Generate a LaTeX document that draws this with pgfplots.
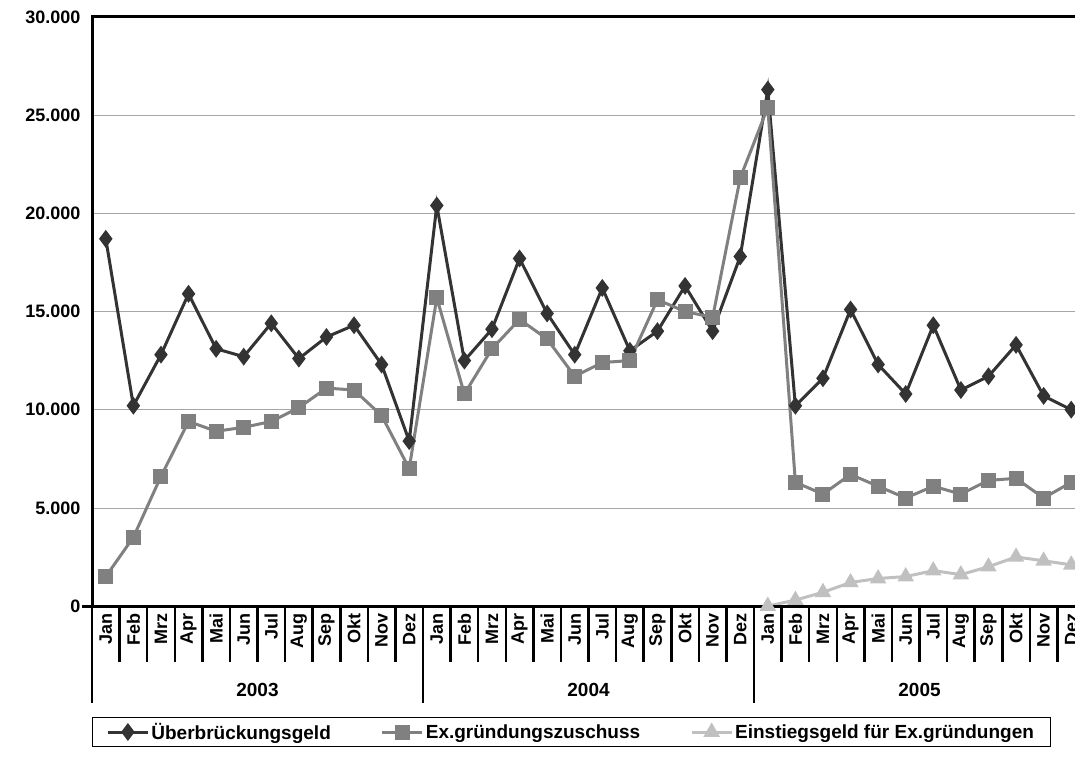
\documentclass[border=0pt]{standalone}
\usepackage{pgfplots}
\pgfplotsset{compat=1.18}
\usepackage{fontspec}
\setmainfont{Liberation Sans}
\definecolor{s1}{HTML}{333333}
\definecolor{s2}{HTML}{808080}
\definecolor{s3}{HTML}{C0C0C0}
\begin{document}
\begin{tikzpicture}[x=1pt,y=1pt]
\useasboundingbox (0,0) rectangle (1075,756);
\begin{axis}[at={(92pt,150pt)},anchor=south west,scale only axis,width=993pt,height=589pt,
  xmin=-0.5,xmax=35.5,ymin=0,ymax=30000,clip=false,
  axis line style={draw=none},
  ytick={0,5000,10000,15000,20000,25000,30000},
  yticklabels={0,5.000,10.000,15.000,20.000,25.000,30.000},
  ymajorgrids,grid style={gray!70,line width=0.6pt},
  major tick length=0pt,
  xtick={0,...,35},
  xticklabels={Jan,Feb,Mrz,Apr,Mai,Jun,Jul,Aug,Sep,Okt,Nov,Dez,Jan,Feb,Mrz,Apr,Mai,Jun,Jul,Aug,Sep,Okt,Nov,Dez,Jan,Feb,Mrz,Apr,Mai,Jun,Jul,Aug,Sep,Okt,Nov,Dez},
  xticklabel style={rotate=90,anchor=east,font=\fontsize{18}{20}\selectfont\bfseries,yshift=0pt,xshift=-4pt},
  yticklabel style={font=\fontsize{18}{20}\selectfont\bfseries,xshift=-8pt},
  legend image code/.code={\draw[mark repeat=2,mark phase=2,#1] plot coordinates {(0pt,0pt)(20pt,0pt)(40pt,0pt)};},
  legend style={at={(0,-0.188)},anchor=north west,draw=black,line width=0.8pt,font=\fontsize{19}{22}\selectfont\bfseries,
    inner xsep=14pt,inner ysep=4pt,/tikz/every even column/.append style={column sep=48pt}},
  legend columns=3,legend cell align=left,
]
\addplot[s1,line width=3pt,mark=diamond*,mark size=6.5pt,mark options={solid}] coordinates {
(0,18700)(1,10200)(2,12800)(3,15900)(4,13100)(5,12700)(6,14400)(7,12600)(8,13700)(9,14300)(10,12300)(11,8400)
(12,20400)(13,12500)(14,14100)(15,17700)(16,14900)(17,12800)(18,16200)(19,13000)(20,14000)(21,16300)(22,14000)(23,17800)
(24,26300)(25,10200)(26,11600)(27,15100)(28,12300)(29,10800)(30,14300)(31,11000)(32,11700)(33,13300)(34,10700)(35,10000)};
\addlegendentry{Überbrückungsgeld}
\addplot[s2,line width=3pt,mark=square*,mark size=6pt] coordinates {
(0,1500)(1,3500)(2,6600)(3,9400)(4,8900)(5,9100)(6,9400)(7,10100)(8,11100)(9,11000)(10,9700)(11,7000)
(12,15700)(13,10800)(14,13100)(15,14600)(16,13600)(17,11700)(18,12400)(19,12500)(20,15600)(21,15000)(22,14700)(23,21800)
(24,25400)(25,6300)(26,5700)(27,6700)(28,6100)(29,5500)(30,6100)(31,5700)(32,6400)(33,6500)(34,5500)(35,6300)};
\addlegendentry{Ex.gründungszuschuss}
\addplot[s3,line width=3pt,mark=triangle*,mark size=6.5pt] coordinates {
(24,0)(25,300)(26,700)(27,1200)(28,1400)(29,1500)(30,1800)(31,1600)(32,2000)(33,2500)(34,2300)(35,2100)};
\addlegendentry{Einstiegsgeld für Ex.gründungen}
\draw[black,line width=3pt] (axis cs:-0.5,0) -- (axis cs:-0.5,30000) -- (axis cs:35.5,30000);
\draw[black,line width=3pt] ([xshift=-10pt]axis cs:-0.5,0) -- (axis cs:35.5,0);
\pgfplotsinvokeforeach{0,...,36}{\draw[black,line width=2.5pt] (axis cs:#1-0.5,0) -- ++(0pt,-56pt);}
\pgfplotsinvokeforeach{0,12,24,36}{\draw[black,line width=2.5pt] (axis cs:#1-0.5,0) -- ++(0pt,-97pt);}
\node[font=\fontsize{19}{22}\selectfont\bfseries] at ([yshift=-84pt]axis cs:5.5,0) {2003};
\node[font=\fontsize{19}{22}\selectfont\bfseries] at ([yshift=-84pt]axis cs:17.5,0) {2004};
\node[font=\fontsize{19}{22}\selectfont\bfseries] at ([yshift=-84pt]axis cs:29.5,0) {2005};
\end{axis}
\end{tikzpicture}
\end{document}
